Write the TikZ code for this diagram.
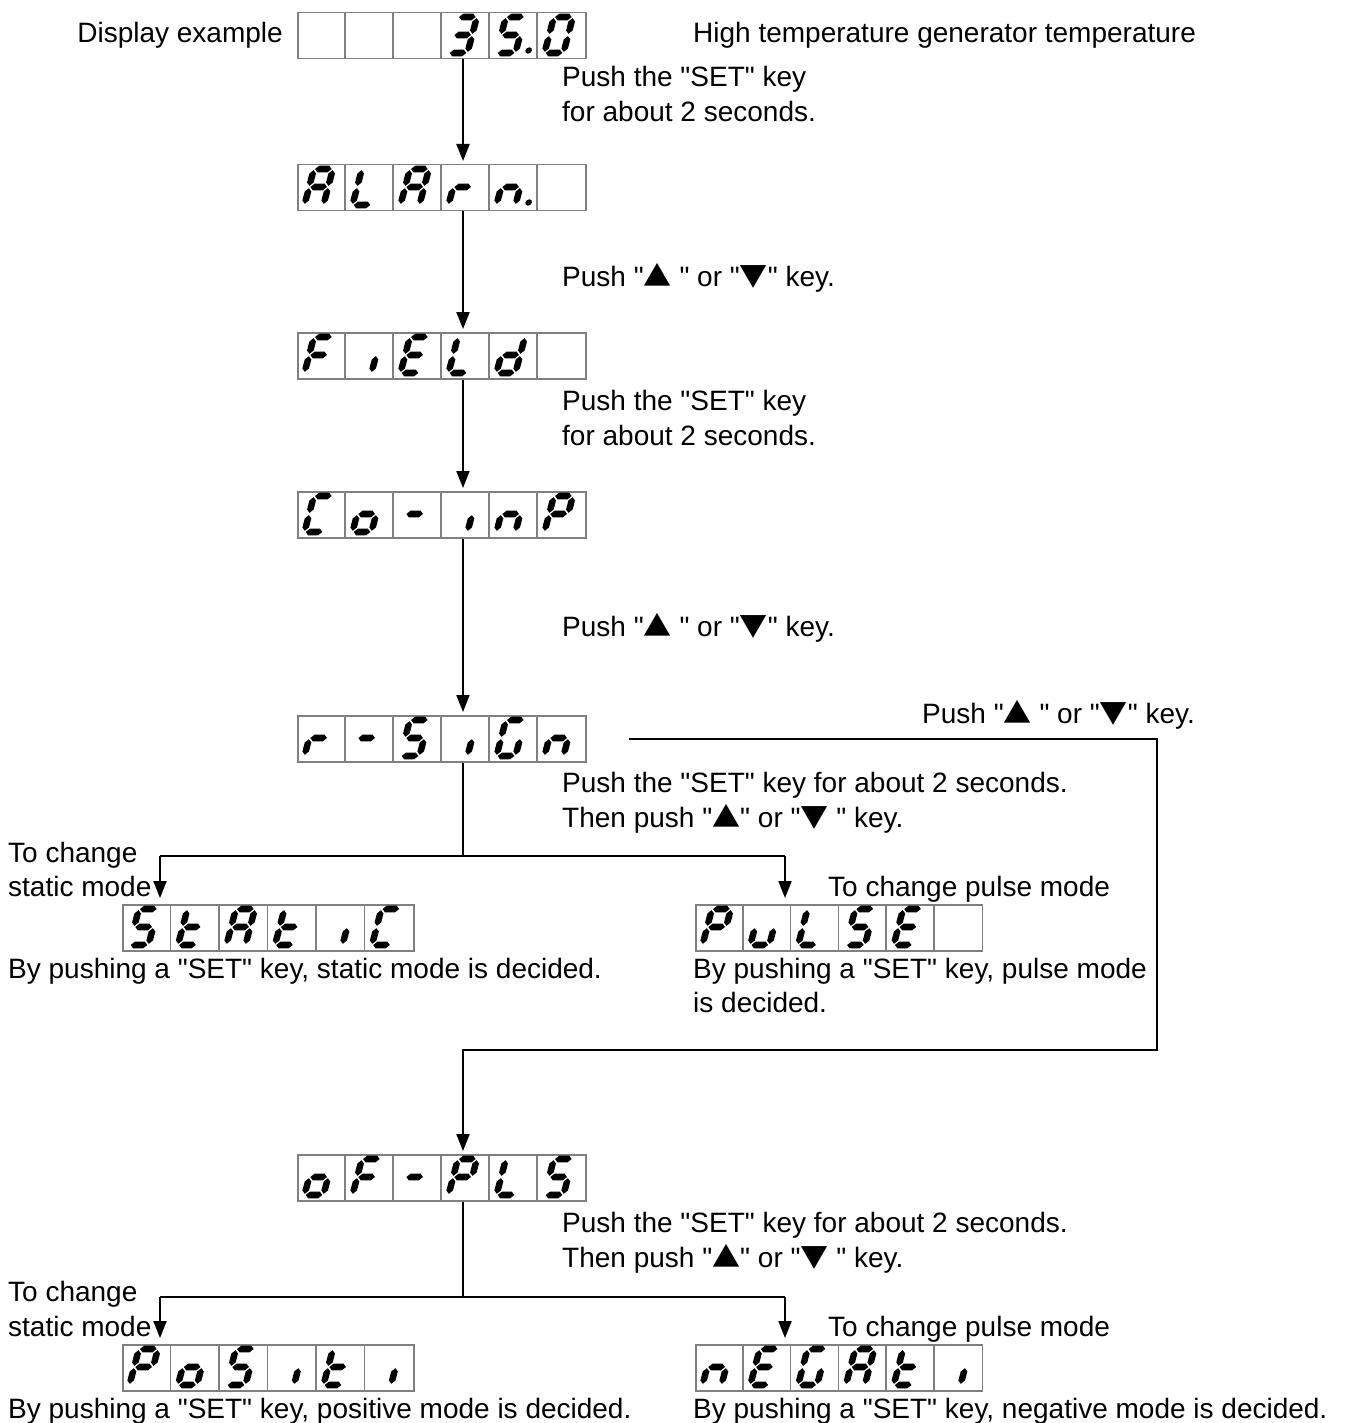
\documentclass[tikz,border=0pt]{standalone}
\usepackage{fontspec}
\setmainfont{Liberation Sans}[Ligatures=TeXOff]
\newfontfamily\symf{Noto Sans CJK JP}
\usetikzlibrary{arrows.meta}
\definecolor{boxgray}{RGB}{128,128,128}
\newcommand\tup{{\symf ▲}}
\newcommand\tdn{{\symf ▼}}
% seven-segment pieces (W=19, H=36, half thickness 3.3), y grows downward
\def\HSeg#1{\fill (1.2,#1) -- (4.5,#1-3.3) -- (14.5,#1-3.3) -- (17.8,#1) -- (14.5,#1+3.3) -- (4.5,#1+3.3) -- cycle;}
\def\VSeg#1#2{\fill (#1,#2-1.2) -- (#1+3.3,#2-4.5) -- (#1+3.3,#2-13.5) -- (#1,#2-16.8) -- (#1-3.3,#2-13.5) -- (#1-3.3,#2-4.5) -- cycle;}
\def\SegA{\HSeg{-36}}
\def\SegG{\HSeg{-18}}
\def\SegD{\HSeg{0}}
\def\SegB{\VSeg{19}{-18}}
\def\SegC{\VSeg{19}{0}}
\def\SegF{\VSeg{0}{-18}}
\def\SegE{\VSeg{0}{0}}
\def\SegDP{\fill (31.5,-2.5) circle (3.2);}
% characters
\def\chThree{\SegA\SegB\SegC\SegD\SegG}
\def\chFive{\SegA\SegF\SegG\SegC\SegD}
\def\chZero{\SegA\SegB\SegC\SegD\SegE\SegF}
\def\chA{\SegA\SegB\SegC\SegE\SegF\SegG}
\def\chL{\SegD\SegE\SegF}
\def\chR{\SegE\SegG}
\def\chN{\SegC\SegE\SegG}
\def\chF{\SegA\SegE\SegF\SegG}
\def\chI{\SegC}
\def\chE{\SegA\SegD\SegE\SegF\SegG}
\def\chD{\SegB\SegC\SegD\SegE\SegG}
\def\chC{\SegA\SegD\SegE\SegF}
\def\chO{\SegC\SegD\SegE\SegG}
\def\chDash{\SegG}
\def\chP{\SegA\SegB\SegE\SegF\SegG}
\def\chG{\SegA\SegC\SegD\SegE\SegF}
\def\chT{\SegD\SegE\SegF\SegG}
\def\chU{\SegC\SegD\SegE}
\def\cw{48}
\newcommand\Glyph[3]{\begin{scope}[shift={({#1},{#2})},xslant=0.26]#3\end{scope}}
\newcommand\Disp[9]{%
  \node[dispbox, minimum width=6*\cw*1pt] (#1) at (#2,#3) {};
  \foreach \i in {1,...,5}{\draw[cellline] ({#2+\i*\cw},#3) -- ++(0,46);}
  \Glyph{#2+7.5}{#3+41}{#4}%
  \Glyph{#2+\cw+7.5}{#3+41}{#5}%
  \Glyph{#2+2*\cw+7.5}{#3+41}{#6}%
  \Glyph{#2+3*\cw+7.5}{#3+41}{#7}%
  \Glyph{#2+4*\cw+7.5}{#3+41}{#8}%
  \Glyph{#2+5*\cw+7.5}{#3+41}{#9}%
}
\begin{document}
\begin{tikzpicture}[x=1pt,y=-1pt,
  dispbox/.style={draw=boxgray, line width=1.5pt, inner sep=0pt, anchor=north west, minimum height=46pt},
  cellline/.style={draw=boxgray, line width=1.5pt},
  wire/.style={draw=black, line width=2pt},
  conn/.style={wire, -{Triangle[length=17pt,width=13pt]}, shorten >=3pt},
  lbl/.style={anchor=base west, inner sep=0pt, font=\fontsize{28}{34}\selectfont},
  lble/.style={lbl, anchor=base east}]
\useasboundingbox (0,0) rectangle (1350,1423);

% displays
\Disp{d1}{297}{12}{}{}{}{\chThree}{\chFive\SegDP}{\chZero}
\Disp{d2}{297}{164}{\chA}{\chL}{\chA}{\chR}{\chN\SegDP}{}
\Disp{d3}{297}{332}{\chF}{\chI}{\chE}{\chL}{\chD}{}
\Disp{d4}{297}{491}{\chC}{\chO}{\chDash}{\chI}{\chN}{\chP}
\Disp{d5}{297}{715}{\chR}{\chDash}{\chFive}{\chI}{\chG}{\chN}
\def\cw{48.5}
\Disp{st}{122}{904}{\chFive}{\chT}{\chA}{\chT}{\chI}{\chC}
\def\cw{47.8}
\Disp{pu}{695}{904}{\chP}{\chU}{\chL}{\chFive}{\chE}{}
\def\cw{48}
\Disp{d6}{297}{1154}{\chO}{\chF}{\chDash}{\chP}{\chL}{\chFive}
\def\cw{48.5}
\Disp{po}{122}{1344}{\chP}{\chO}{\chFive}{\chI}{\chT}{\chI}
\def\cw{47.8}
\Disp{ne}{695}{1344}{\chN}{\chE}{\chG}{\chA}{\chT}{\chI}
\def\cw{48}

% texts
\node[lble] (tdisp) at (283,43) {Display example};
\node[lbl] (thigh) at (693,43) {High temperature generator temperature};
\node[lbl] (t1a) at (562,87) {Push the "SET" key};
\node[lbl] (t1b) at (562,122) {for about 2 seconds.};
\node[lbl] (t2) at (562,286) {Push "\tup\ " or "\tdn" key.};
\node[lbl] (t3a) at (562,410) {Push the "SET" key};
\node[lbl] (t3b) at (562,445) {for about 2 seconds.};
\node[lbl] (t4) at (562,636) {Push "\tup\ " or "\tdn" key.};
\node[lbl] (t5) at (922,723) {Push "\tup\ " or "\tdn" key.};
\node[lbl] (t6a) at (562,792) {Push the "SET" key for about 2 seconds.};
\node[lbl] (t6b) at (562,827) {Then push "\tup" or "\tdn\ " key.};
\node[lbl] (t7a) at (8,862) {To change};
\node[lbl] (t7b) at (8,896) {static mode};
\node[lbl] (t8) at (828,896) {To change pulse mode};
\node[lbl] (t9) at (8,978) {By pushing a "SET" key, static mode is decided.};
\node[lbl] (t10a) at (693,978) {By pushing a "SET" key, pulse mode};
\node[lbl] (t10b) at (693,1012) {is decided.};
\node[lbl] (t11a) at (562,1232) {Push the "SET" key for about 2 seconds.};
\node[lbl] (t11b) at (562,1267) {Then push "\tup" or "\tdn\ " key.};
\node[lbl] (t12a) at (8,1301) {To change};
\node[lbl] (t12b) at (8,1336) {static mode};
\node[lbl] (t13) at (828,1336) {To change pulse mode};
\node[lbl] (t14) at (8,1418) {By pushing a "SET" key, positive mode is decided.};
\node[lbl] (t15) at (693,1418) {By pushing a "SET" key, negative mode is decided.};

% connectors
\coordinate (col) at (463,0);
\draw[conn] (d1.south -| col) -- (d2.north -| col);
\draw[conn] (d2.south -| col) -- (d3.north -| col);
\draw[conn] (d3.south -| col) -- (d4.north -| col);
\draw[conn] (d4.south -| col) -- (d5.north -| col);

\coordinate (s1) at (463,856);
\coordinate (sL) at (160,856);
\coordinate (sR) at (785,856);
\draw[wire] (d5.south -| col) -- (s1);
\draw[wire] (sL) -- (sR);
\draw[conn, shorten >=6pt] (sL) -- (sL |- st.north);
\draw[conn, shorten >=6pt] (sR) -- (sR |- pu.north);

\coordinate (r0) at ([xshift=42pt]d5.east);
\coordinate (r1) at (1157,738);
\coordinate (r2) at (1157,1050);
\coordinate (r3) at (463,1050);
\draw[conn] (r0) -- (r0 -| r1) -- (r2) -- (r3) -- (r3 |- d6.north);

\coordinate (u1) at (463,1297);
\coordinate (uL) at (160,1297);
\coordinate (uR) at (785,1297);
\draw[wire] (d6.south -| col) -- (u1);
\draw[wire] (uL) -- (uR);
\draw[conn, shorten >=6pt] (uL) -- (uL |- po.north);
\draw[conn, shorten >=6pt] (uR) -- (uR |- ne.north);
\end{tikzpicture}
\end{document}
